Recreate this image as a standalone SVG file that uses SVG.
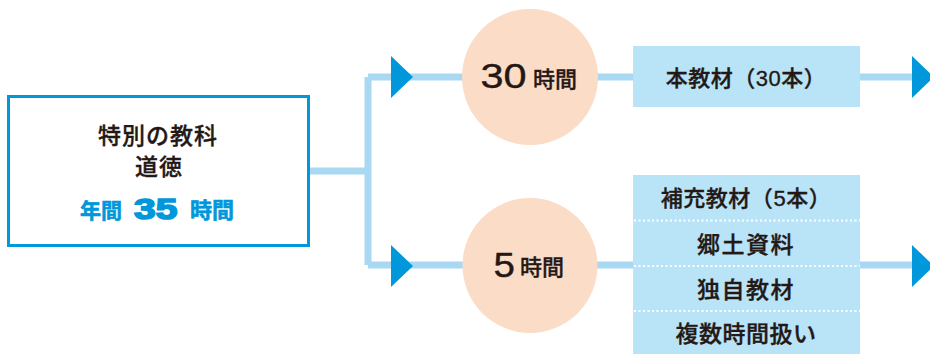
<svg xmlns="http://www.w3.org/2000/svg" width="930" height="354" viewBox="0 0 930 354">
<style>
.t{font-family:"Liberation Sans","Noto Sans CJK JP",sans-serif;fill:#231815;}
.j{font-family:"Noto Sans CJK JP Medium","Noto Sans CJK JP",sans-serif;fill:#231815;font-size:22px;font-weight:500;text-anchor:middle;stroke:#231815;stroke-width:0.35;}
.b{font-family:"Noto Sans CJK JP",sans-serif;fill:#0097DB;font-weight:bold;stroke:#0097DB;stroke-width:0.6;}
.n{font-family:"Liberation Sans",sans-serif;}
.ln{stroke:#A9D9F2;stroke-width:7;fill:none;}
.ar{fill:#0097DB;}
.c{fill:#FBDCC6;}
.r{fill:#B9E4F8;}
.dot{stroke:#FFFFFF;stroke-width:2;stroke-dasharray:2 2.5;}
</style>
<g id="connectors">
<path class="ln" d="M310 171 H368 M368 77 V265 M368 77 H912 M368 265 H912"/>
<polygon class="ar" points="391,56 413,77 391,98"/>
<polygon class="ar" points="391,245 413,266 391,287"/>
<polygon class="ar" points="912,56 934,77 912,98"/>
<polygon class="ar" points="912,245 934,266 912,287"/>
</g>
<g id="main">
<rect x="8.5" y="96.5" width="300" height="149" fill="#FFFFFF" stroke="#0097DB" stroke-width="3"/>
<text class="j" x="158" y="144" style="font-size:23px" letter-spacing="1">特別の教科</text>
<text class="j" x="159" y="175" style="font-size:23px" letter-spacing="1">道徳</text>
<text class="b" x="80" y="218" style="font-size:21px">年間</text>
<text class="b n" transform="translate(134,218.5) scale(1.3,1)" font-size="30" style="stroke-width:1.6">35</text>
<text class="b" x="190" y="218" style="font-size:22px">時間</text>
</g>
<g id="c30">
<circle class="c" cx="530" cy="77" r="68"/>
<text class="t n" transform="translate(480.5,88) scale(1.15,1)" font-size="36" stroke="#231815" stroke-width="0.4">30</text>
<text class="j" x="555" y="87" style="font-size:22px">時間</text>
</g>
<g id="c5">
<circle class="c" cx="530" cy="265.5" r="67.5"/>
<text class="t n" transform="translate(493.5,277) scale(1.1,1)" font-size="35" stroke="#231815" stroke-width="0.4">5</text>
<text class="j" x="542" y="275" style="font-size:22px">時間</text>
</g>
<g id="r30">
<rect class="r" x="633" y="46" width="227" height="61"/>
<text class="j" x="746" y="86" letter-spacing="0.5"><tspan>本教材（</tspan><tspan class="n">30</tspan><tspan>本）</tspan></text>
</g>
<g id="r5">
<rect class="r" x="633" y="175" width="227" height="179"/>
<line class="dot" x1="634" y1="220.5" x2="860" y2="220.5"/>
<line class="dot" x1="634" y1="266" x2="860" y2="266"/>
<line class="dot" x1="634" y1="311" x2="860" y2="311"/>
<text class="j" x="746" y="206" letter-spacing="0.5"><tspan>補充教材（</tspan><tspan class="n">5</tspan><tspan>本）</tspan></text>
<text class="j" x="746" y="253" style="font-size:23px" letter-spacing="1.5">郷土資料</text>
<text class="j" x="746" y="298" style="font-size:23px" letter-spacing="1.5">独自教材</text>
<text class="j" x="746" y="342" style="font-size:23px" letter-spacing="0.5">複数時間扱い</text>
</g>
</svg>
